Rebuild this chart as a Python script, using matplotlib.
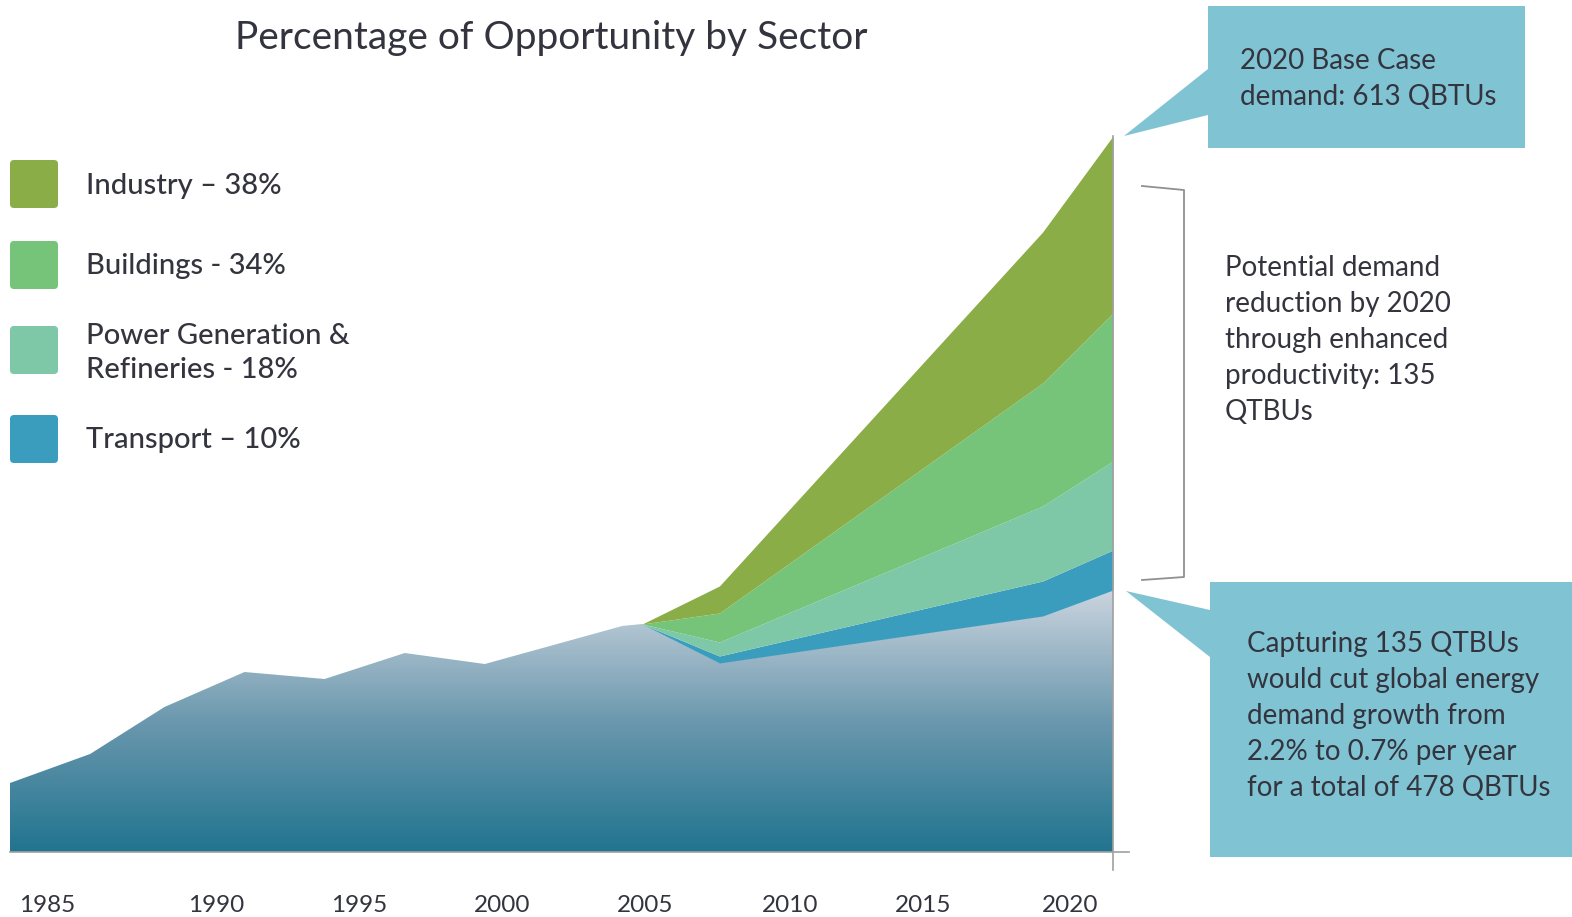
import numpy as np
import matplotlib
matplotlib.use('Agg')
import matplotlib.pyplot as plt
from matplotlib.patches import FancyBboxPatch, Polygon
from matplotlib.colors import LinearSegmentedColormap

plt.rcParams['font.family'] = ['Lato', 'DejaVu Sans']

# data (arbitrary demand units)
years = [1982.8, 1985.6, 1988.2, 1991.0, 1993.8, 1996.6, 1999.4, 2004.2, 2004.9, 2007.6, 2018.9, 2021.36]
base = [69, 98, 145, 180, 173, 199, 188, 226, 228, 189, 236, 262]
transport = [0, 0, 0, 0, 0, 0, 0, 0, 0, 7, 35, 40]
power_gen = [0, 0, 0, 0, 0, 0, 0, 0, 0, 14, 75, 89]
buildings = [0, 0, 0, 0, 0, 0, 0, 0, 0, 29, 123, 148]
industry = [0, 0, 0, 0, 0, 0, 0, 0, 0, 27, 151, 177]

tick_pos = [1984.1, 1990, 1995, 2000, 2005, 2010.07, 2014.72, 2019.86]
tick_labels = ['1985', '1990', '1995', '2000', '2005', '2010', '2015', '2020']

legend_labels = ['Industry – 38%', 'Buildings - 34%', 'Power Generation &\nRefineries - 18%', 'Transport – 10%']
colors = ['#8aad48', '#76c47a', '#7ec8a8', '#3a9dbd']
callout = '#80c3d3'
txt = '#33343e'

W, H = 1572, 917
fig = plt.figure(figsize=(W / 100, H / 100), dpi=100)
ax = fig.add_axes([10 / W, 65 / H, 1103 / W, 752 / H])

x = np.array(years)
b = np.array(base, dtype=float)

# gradient base area
poly = ax.fill_between(x, 0, b, color='none', lw=0)
grad = np.linspace(1, 0, 256).reshape(-1, 1)
cmap = LinearSegmentedColormap.from_list('g', ['#21748f', '#6b98ae', '#cad4de'])
img = ax.imshow(grad, extent=[x.min(), x.max(), 0, b.max()], aspect='auto', cmap=cmap, zorder=1)
img.set_clip_path(poly.get_paths()[0], transform=ax.transData)

# stacked sectors
bottom = b.copy()
for vals, c in zip([transport, power_gen, buildings, industry], colors[::-1]):
    top = bottom + np.array(vals)
    ax.fill_between(x, bottom, top, color=c, lw=0, zorder=2)
    bottom = top

ax.set_xlim(x.min(), x.max())
ax.set_ylim(0, 752)
for s in ax.spines.values():
    s.set_visible(False)
ax.set_yticks([])
ax.set_xticks(tick_pos)
ax.set_xticklabels(tick_labels, fontsize=17.5, color=txt)
ax.tick_params(axis='x', length=0, pad=31)
ax.patch.set_alpha(0)

ax.plot([x.min(), x.max() + 0.55], [0, 0], color='#a0a0a0', lw=1.2, clip_on=False, zorder=3)
ax.plot([x.max(), x.max()], [-18, bottom[-1]], color='#a0a0a0', lw=1.2, clip_on=False, zorder=3)

# overlay in pixel coords
ov = fig.add_axes([0, 0, 1, 1], zorder=3)
ov.set_xlim(0, W)
ov.set_ylim(H, 0)
ov.axis('off')
ov.patch.set_alpha(0)

ov.text(551, 38, 'Percentage of Opportunity by Sector', fontsize=28, color=txt,
        ha='center', va='center')

sq_y = [160, 241, 326, 415]
lab_y = [186, 266, 353, 440]
for yy, ly, lab, c in zip(sq_y, lab_y, legend_labels, colors):
    ov.add_patch(FancyBboxPatch((10, yy), 48, 48, boxstyle='round,pad=0,rounding_size=4',
                                fc=c, ec='none'))
    ov.text(86, ly, lab, fontsize=21, color=txt, va='center', ha='left',
            linespacing=1.35, fontweight='medium')

# top callout
ov.add_patch(Polygon([(1208, 6), (1525, 6), (1525, 148), (1208, 148), (1208, 115),
                      (1124, 136), (1208, 69)], closed=True, fc=callout, ec='none'))
ov.text(1240, 79, '2020 Base Case\ndemand: 613 QBTUs', fontsize=20, color=txt,
        va='center', ha='left', linespacing=1.45)

# bracket
ov.plot([1142, 1184, 1184, 1142], [186, 190, 577, 580], color='#909090', lw=1.3)
ov.text(1225, 340, 'Potential demand\nreduction by 2020\nthrough enhanced\nproductivity: 135\nQTBUs',
        fontsize=20, color=txt, va='center', ha='left', linespacing=1.48)

# bottom callout
ov.add_patch(Polygon([(1210, 582), (1572, 582), (1572, 857), (1210, 857), (1210, 657),
                      (1126, 591), (1210, 610)], closed=True, fc=callout, ec='none'))
ov.text(1247, 716, 'Capturing 135 QTBUs\nwould cut global energy\ndemand growth from\n2.2% to 0.7% per year\nfor a total of 478 QBTUs',
        fontsize=20, color=txt, va='center', ha='left', linespacing=1.48)

fig.savefig('out.png', dpi=100, facecolor='white')
